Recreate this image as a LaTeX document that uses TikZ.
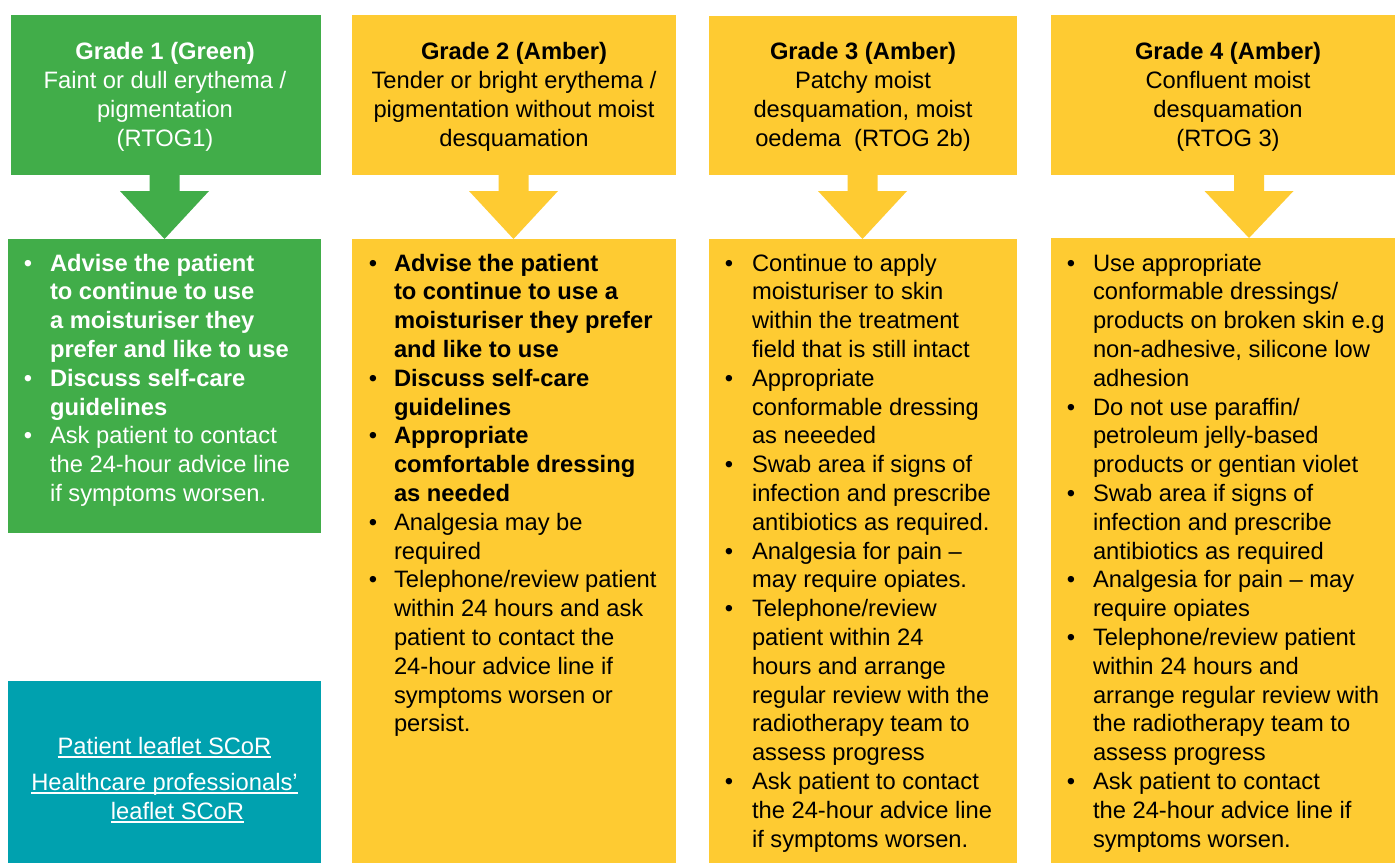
\documentclass[tikz,border=0pt]{standalone}
\usepackage{fontspec}
\setmainfont{Liberation Sans}
\usetikzlibrary{calc}
\definecolor{rgreen}{RGB}{65,173,73}
\definecolor{ramber}{RGB}{254,203,50}
\definecolor{rteal}{RGB}{0,161,175}
\newcommand\llines[1]{\begin{tabular}[t]{@{}l@{}}#1\end{tabular}}
\newcommand\clines[1]{\begin{tabular}[t]{@{}c@{}}#1\end{tabular}}
\newcommand\bitem[6]{%
  \node[bul] at (#2,{271+28.8*#4}) {\textbullet};
  \node[#6] (#1) at (#3,{271+28.8*#4}) {\llines{#5}};}
\newcommand\blockarrow[4]{%
  \fill[#4] ($(#1.south)+({#3-15},0)$) -- ++(30,0) -- ++(0,16) -- ++(29.5,0)
    -- ($(#1.south |- #2.north)+({#3},0)$) -- ($(#1.south)+({#3-44.5},16)$)
    -- ++(29.5,0) -- cycle;}
\newcommand\ulnode[1]{%
  \draw[white, line width=1.1pt] ([yshift=-2.3pt]#1.base west) -- ([yshift=-2.3pt]#1.base east);}
\begin{document}
\begin{tikzpicture}[x=0.75pt,y=-0.75pt,
  blk/.style={rectangle, inner sep=0pt, outer sep=0pt, anchor=north west},
  txt/.style={inner sep=0pt, outer sep=0pt, font=\fontsize{17.8}{21.6}\selectfont},
  hdr/.style={txt, anchor=base},
  itm/.style={txt, anchor=base west},
  itmb/.style={itm, font=\fontsize{17.8}{21.6}\selectfont\bfseries},
  bul/.style={txt, anchor=base},
  lnk/.style={txt, anchor=base, text=white}]
\useasboundingbox (0,0) rectangle (1395,863);
\fill[white] (0,0) rectangle (1395,863);

% boxes
\node[blk, fill=rgreen, minimum width=232.5pt, minimum height=120pt] (h1) at (11,15) {};
\node[blk, fill=rgreen, minimum width=234.75pt, minimum height=220.5pt] (b1) at (8,239) {};
\node[blk, fill=rteal, minimum width=234.75pt, minimum height=136.5pt] (t1) at (8,681) {};
\node[blk, fill=ramber, minimum width=243pt, minimum height=120pt] (h2) at (352,15) {};
\node[blk, fill=ramber, minimum width=243pt, minimum height=468pt] (b2) at (352,239) {};
\node[blk, fill=ramber, minimum width=231pt, minimum height=119.25pt] (h3) at (709,16) {};
\node[blk, fill=ramber, minimum width=231pt, minimum height=468pt] (b3) at (709,239) {};
\node[blk, fill=ramber, minimum width=258pt, minimum height=120pt] (h4) at (1051,15) {};
\node[blk, fill=ramber, minimum width=258pt, minimum height=468.75pt] (b4) at (1051,238) {};

% block arrows
\blockarrow{h1}{b1}{-1.5}{rgreen}
\blockarrow{h2}{b2}{-0.5}{ramber}
\blockarrow{h3}{b3}{-0.5}{ramber}
\blockarrow{h4}{b4}{26}{ramber}

% headers
\node[hdr, text=white] (ht1) at (165,60) {\clines{\textbf{Grade 1 (Green)}\\Faint or dull erythema /\\pigmentation\\(RTOG1)}};
\node[hdr] (ht2) at (514,60) {\clines{\textbf{Grade 2 (Amber)}\\Tender or bright erythema /\\pigmentation without moist\\desquamation}};
\node[hdr] (ht3) at (863,60) {\clines{\textbf{Grade 3 (Amber)}\\Patchy moist\\desquamation, moist\\oedema~~(RTOG 2b)}};
\node[hdr] (ht4) at (1228,60) {\clines{\textbf{Grade 4 (Amber)}\\Confluent moist\\desquamation\\(RTOG 3)}};

% column 1
\begin{scope}[every node/.append style={text=white}]
\bitem{c1a}{28}{50}{0}{Advise the patient\\to continue to use\\a moisturiser they\\prefer and like to use}{itmb}
\bitem{c1b}{28}{50}{4}{Discuss self-care\\guidelines}{itmb}
\bitem{c1c}{28}{50}{6}{Ask patient to contact\\the 24-hour advice line\\if symptoms worsen.}{itm}
\end{scope}

% teal links
\node[lnk] (l1) at (164.5,754) {Patient leaflet SCoR};
\node[lnk] (l2) at (164.5,790) {Healthcare professionals’};
\node[lnk] (l3) at (177.5,819) {leaflet SCoR};
\ulnode{l1}
\ulnode{l2}
\ulnode{l3}

% column 2
\bitem{c2a}{373}{394}{0}{Advise the patient\\to continue to use a\\moisturiser they prefer\\and like to use}{itmb}
\bitem{c2b}{373}{394}{4}{Discuss self-care\\guidelines}{itmb}
\bitem{c2c}{373}{394}{6}{Appropriate\\comfortable dressing\\as needed}{itmb}
\bitem{c2d}{373}{394}{9}{Analgesia may be\\required}{itm}
\bitem{c2e}{373}{394}{11}{Telephone/review patient\\within 24 hours and ask\\patient to contact the\\24-hour advice line if\\symptoms worsen or\\persist.}{itm}

% column 3
\bitem{c3a}{729}{752}{0}{Continue to apply\\moisturiser to skin\\within the treatment\\field that is still intact}{itm}
\bitem{c3b}{729}{752}{4}{Appropriate\\conformable dressing\\as neeeded}{itm}
\bitem{c3c}{729}{752}{7}{Swab area if signs of\\infection and prescribe\\antibiotics as required.}{itm}
\bitem{c3d}{729}{752}{10}{Analgesia for pain –\\may require opiates.}{itm}
\bitem{c3e}{729}{752}{12}{Telephone/review\\patient within 24\\hours and arrange\\regular review with the\\radiotherapy team to\\assess progress}{itm}
\bitem{c3f}{729}{752}{18}{Ask patient to contact\\the 24-hour advice line\\if symptoms worsen.}{itm}

% column 4
\bitem{c4a}{1071}{1093}{0}{Use appropriate\\conformable dressings/\\products on broken skin e.g\\non-adhesive, silicone low\\adhesion}{itm}
\bitem{c4b}{1071}{1093}{5}{Do not use paraffin/\\petroleum jelly-based\\products or gentian violet}{itm}
\bitem{c4c}{1071}{1093}{8}{Swab area if signs of\\infection and prescribe\\antibiotics as required}{itm}
\bitem{c4d}{1071}{1093}{11}{Analgesia for pain – may\\require opiates}{itm}
\bitem{c4e}{1071}{1093}{13}{Telephone/review patient\\within 24 hours and\\arrange regular review with\\the radiotherapy team to\\assess progress}{itm}
\bitem{c4f}{1071}{1093}{18}{Ask patient to contact\\the 24-hour advice line if\\symptoms worsen.}{itm}
\end{tikzpicture}
\end{document}
